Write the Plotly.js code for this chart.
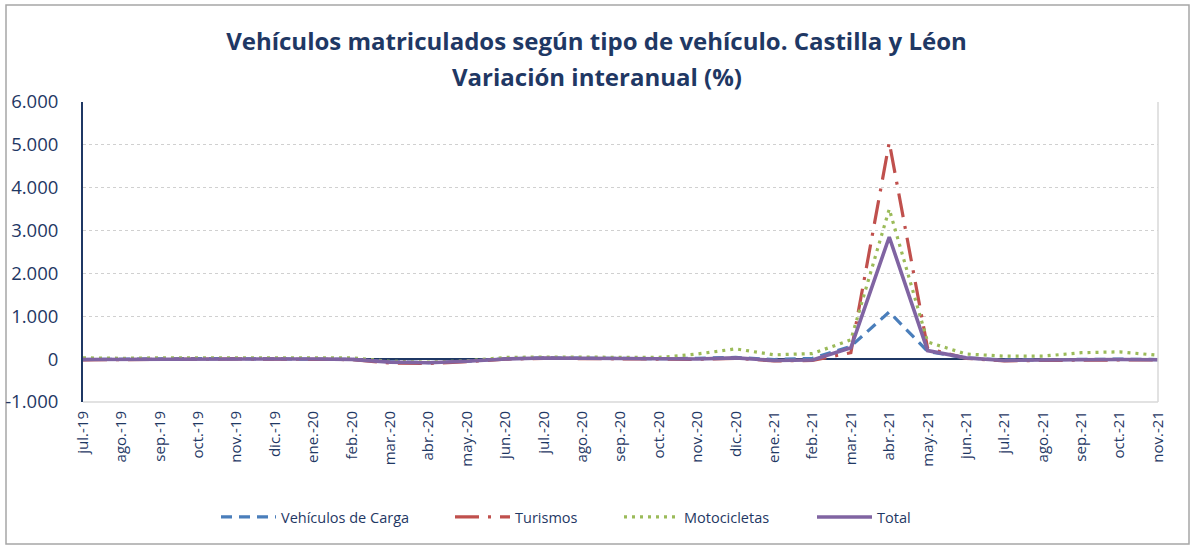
<!DOCTYPE html>
<html>
<head>
<meta charset="utf-8">
<script src="https://cdn.plot.ly/plotly-3.0.1.min.js"></script>
<style>
html,body{margin:0;padding:0;background:#fff;}
#chart{width:1193px;height:545px;}
</style>
</head>
<body>
<div id="chart"></div>
<script>
const months = ["jul.-19","ago.-19","sep.-19","oct.-19","nov.-19","dic.-19","ene.-20","feb.-20","mar.-20","abr.-20","may.-20","jun.-20","jul.-20","ago.-20","sep.-20","oct.-20","nov.-20","dic.-20","ene.-21","feb.-21","mar.-21","abr.-21","may.-21","jun.-21","jul.-21","ago.-21","sep.-21","oct.-21","nov.-21"];
const carga = [-10,0,10,15,10,5,5,-5,-60,-80,-50,10,30,20,15,10,20,40,-10,20,300,1100,180,30,-20,-10,0,0,-10];
const turismos = [-15,-10,5,10,5,0,0,-10,-90,-100,-60,0,20,10,10,-10,-5,20,-40,-30,150,5060,250,20,-40,-30,-20,-20,-20];
const motocicletas = [30,20,30,30,30,20,20,30,-50,-70,-40,40,50,50,40,40,120,240,100,130,450,3500,400,120,70,70,150,170,90];
const total = [-10,-5,10,15,10,5,5,-5,-70,-85,-50,5,25,15,15,-5,5,30,-30,-20,265,2850,200,30,-30,-20,-10,-10,-15];
const yTickVals = [-1000,0,1000,2000,3000,4000,5000,6000];
const yTickText = ["-1.000","0","1.000","2.000","3.000","4.000","5.000","6.000"];
const titleLine1 = "Vehículos matriculados según tipo de vehículo. Castilla y Léon";
const titleLine2 = "Variación interanual (%)";

const navy = "#1F3864";
const FONT = "'Open Sans', 'Noto Sans', sans-serif";
const L = 83, R = 1158, T = 102, B = 402;
const px = v => (v - L) / (R - L);
const py = v => (B - v) / (B - T);

const traces = [
  {x: months, y: carga, name: "Vehículos de Carga", mode: "lines", legend: "legend",
   line: {color: "#4A7EBB", width: 3.2, dash: "11px,7px"}},
  {x: months, y: turismos, name: "Turismos", mode: "lines", legend: "legend2",
   line: {color: "#C0504D", width: 3.2, dash: "24px,9px,3px,9px"}},
  {x: months, y: motocicletas, name: "Motocicletas", mode: "lines", legend: "legend3",
   line: {color: "#9BBB59", width: 3.2, dash: "3px,5px"}},
  {x: months, y: total, name: "Total", mode: "lines", legend: "legend4",
   line: {color: "#8064A2", width: 3.6}}
];

const legFont = {family: FONT, size: 14.5, color: navy};
function leg(xpx){
  return {orientation: "h", x: px(xpx), xanchor: "left", y: py(517), yanchor: "middle",
          font: legFont, bgcolor: "rgba(0,0,0,0)", borderwidth: 0, itemwidth: 55};
}

const layout = {
  width: 1193, height: 545,
  margin: {l: L, r: 1193 - R, t: T, b: 545 - B, pad: 0},
  paper_bgcolor: "#fff", plot_bgcolor: "#fff",
  separators: ",.",
  title: {
    text: "<b>" + titleLine1 + "</b>",
    font: {family: FONT, size: 24, color: navy},
    x: 0.5, xref: "container", xanchor: "center",
    y: 1 - 42 / 545, yref: "container", yanchor: "middle"
  },
  annotations: [
    {text: "<b>" + titleLine2 + "</b>", xref: "paper", yref: "paper",
     x: px(597), y: py(76), xanchor: "center", yanchor: "middle", showarrow: false,
     font: {family: FONT, size: 24, color: navy}}
  ],
  xaxis: {
    type: "category", range: [0, months.length - 1], showgrid: false, zeroline: false,
    showline: false, ticks: "", tickangle: -90, ticklabelstandoff: 5,
    tickfont: {family: FONT, size: 15, color: navy},
    fixedrange: true
  },
  yaxis: {
    range: [-1000, 6000], tickmode: "array", tickvals: yTickVals, ticktext: yTickText,
    showgrid: true, gridcolor: "#D0D0D0", gridwidth: 1, griddash: "dot",
    zeroline: true, zerolinecolor: navy, zerolinewidth: 2,
    showline: true, linecolor: navy, linewidth: 2, ticks: "",
    ticklabelstandoff: 19,
    tickfont: {family: FONT, size: 18.5, color: navy},
    fixedrange: true
  },
  showlegend: true,
  legend: leg(216),
  legend2: leg(450),
  legend3: leg(619),
  legend4: leg(812),
  shapes: [
    {type: "line", xref: "paper", yref: "paper", x0: 1, x1: 1, y0: 0, y1: 1,
     line: {color: "#D9D9D9", width: 1.5}},
    {type: "line", xref: "paper", yref: "paper", x0: 0, x1: 1, y0: 0, y1: 0,
     line: {color: "#D9D9D9", width: 1.5}},
    {type: "rect", xref: "paper", yref: "paper", x0: px(6), x1: px(1189), y0: py(544), y1: py(5),
     line: {color: "#A6A6A6", width: 1.5}, fillcolor: "rgba(0,0,0,0)", layer: "below"}
  ],
  hovermode: false
};

Plotly.newPlot("chart", traces, layout, {staticPlot: true, displayModeBar: false});
</script>
</body>
</html>
